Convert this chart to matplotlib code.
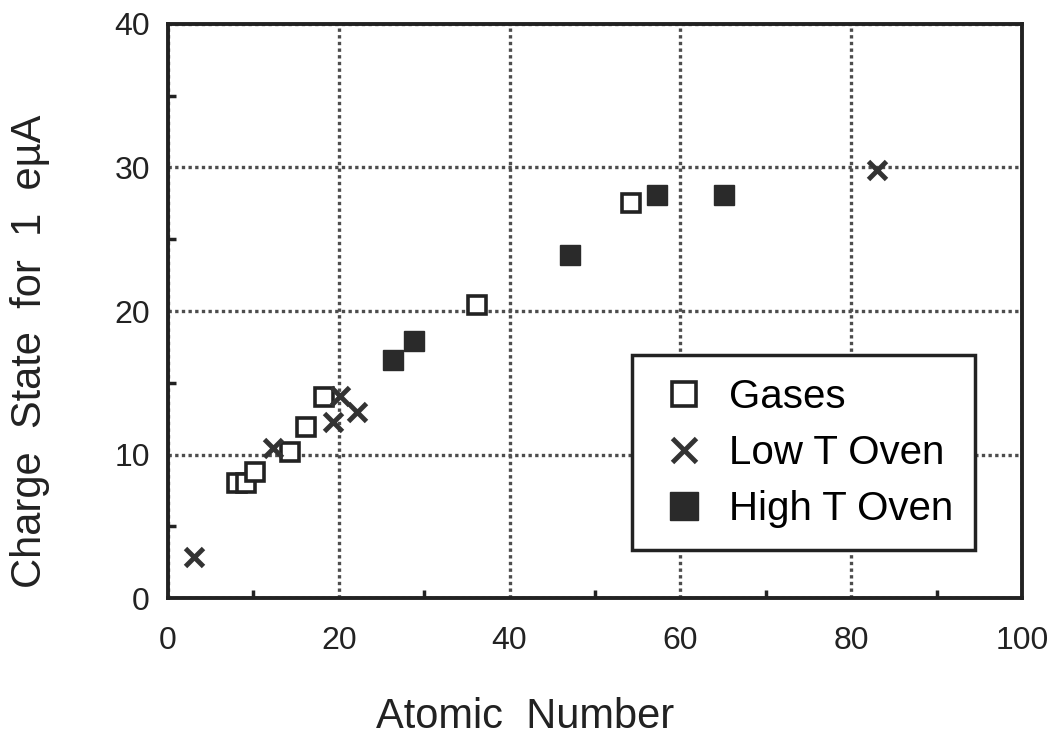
import matplotlib.pyplot as plt
from matplotlib.ticker import MultipleLocator

plt.rcParams['font.family'] = ['Liberation Sans', 'DejaVu Sans']

# data
gas_z = [8.1, 9.1, 10.2, 14.3, 16.2, 18.3, 36.2, 54.2]
gas_q = [8.0, 8.0, 8.8, 10.2, 11.9, 14.0, 20.4, 27.5]

low_z = [3.0, 12.3, 19.3, 20.1, 22.1, 83.0]
low_q = [2.9, 10.5, 12.3, 14.1, 13.0, 29.8]

high_z = [26.3, 28.8, 47.1, 57.3, 65.1]
high_q = [16.6, 17.9, 23.9, 28.1, 28.1]

fig = plt.figure(figsize=(10.59, 7.46), dpi=100)
ax = fig.add_axes([0.1586, 0.198, 0.8064, 0.77])

ax.grid(True, which='major', color='0.3', linestyle=(0, (1, 1)), lw=2.4)
ax.set_axisbelow(True)

ax.plot(gas_z, gas_q, 's', ms=13, mfc='white', mec='#222222', mew=2.6,
        ls='none', label='Gases')
ax.plot(low_z, low_q, 'x', ms=13, mec='#333333', mew=3.5,
        ls='none', label='Low T Oven')
ax.plot(high_z, high_q, 's', ms=15, mfc='#2a2a2a', mec='#2a2a2a',
        ls='none', label='High T Oven')

ax.set_xlim(0, 100)
ax.set_ylim(0, 40)
ax.xaxis.set_major_locator(MultipleLocator(20))
ax.yaxis.set_major_locator(MultipleLocator(10))
ax.xaxis.set_minor_locator(MultipleLocator(10))
ax.yaxis.set_minor_locator(MultipleLocator(5))
ax.tick_params(which='major', length=0, labelsize=23, colors='#222222')
ax.tick_params(axis='x', which='major', pad=20)
ax.tick_params(axis='y', which='major', pad=13)
ax.tick_params(which='minor', direction='in', length=6, width=2.5,
               color='#222222')
for s in ax.spines.values():
    s.set_linewidth(2.8)
    s.set_color('#222222')

ax.set_xlabel('Atomic  Number', fontsize=30, color='#222222')
ax.set_ylabel('Charge  State  for  1  e\u00b5A', fontsize=30, color='#222222')
ax.xaxis.set_label_coords(0.418, -0.172)
ax.yaxis.set_label_coords(-0.138, 0.43)

leg = ax.legend(loc='lower right', bbox_to_anchor=(0.945, 0.084), fontsize=29,
                frameon=True, fancybox=False, edgecolor='#222222',
                framealpha=1, markerscale=1.3, handletextpad=0.35,
                borderpad=0.55, labelspacing=0.45, handlelength=1.5,
                borderaxespad=0)
leg.get_frame().set_linewidth(2.5)

plt.savefig('out.png', dpi=100)
